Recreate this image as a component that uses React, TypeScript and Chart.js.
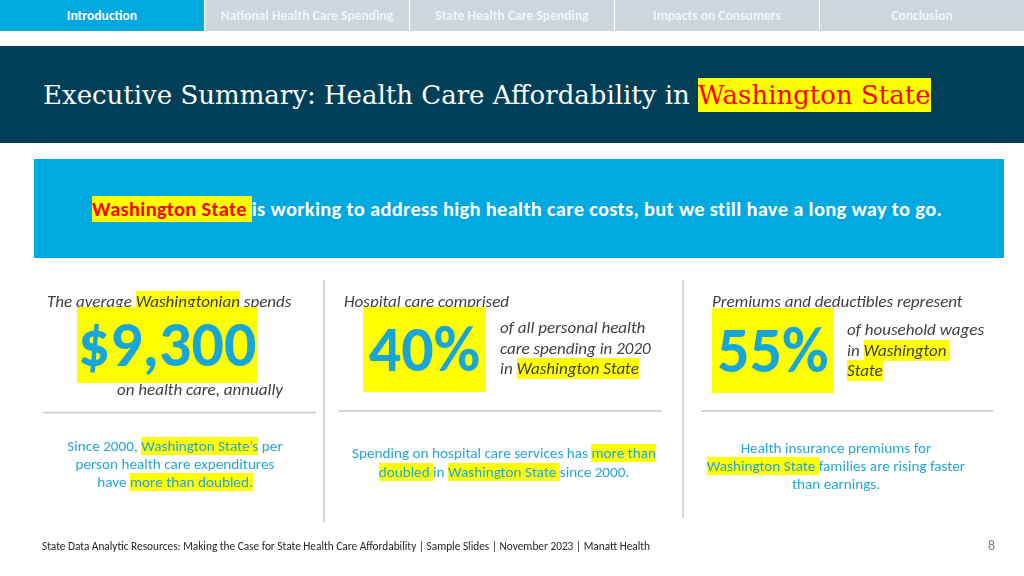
import React, { useEffect, useRef } from "react";
import { Chart, registerables } from "chart.js";

Chart.register(...registerables);

const navTabs = [
  "Introduction",
  "National Health Care Spending",
  "State Health Care Spending",
  "Impacts on Consumers",
  "Conclusion",
];
const activeTab = 0;
const stateName = "Washington State";
const titleText = "Executive Summary: Health Care Affordability in ";
const bannerText = "is working to address high health care costs, but we still have a long way to go.";
const statValues = ["$9,300", "40%", "55%"];
const footerText =
  "State Data Analytic Resources: Making the Case for State Health Care Affordability | Sample Slides | November 2023 | Manatt Health";
const pageNumber = "8";

const SANS = "Carlito, Calibri, Lato, sans-serif";
const BLUE = "#00A9DF";
const STAT_BLUE = "#18A6DA";
const TEXT_BLUE = "#22A6DA";
const GRAY_TEXT = "#404040";
const YELLOW = "#FFFF00";
const NBSP = "\u00A0";

const hl = (t: string, extra: React.CSSProperties = {}) => (
  <span style={{ background: YELLOW, ...extra }}>{t}</span>
);

const dividerPlugin = {
  id: "slideDividers",
  afterDraw(chart: any) {
    const ctx = chart.ctx as CanvasRenderingContext2D;
    ctx.save();
    ctx.strokeStyle = "#C8C8C8";
    ctx.lineWidth = 1.5;
    const segs = [
      [324, 280, 324, 522],
      [683, 280, 683, 518],
      [43, 412.5, 316, 412.5],
      [339, 411, 662, 411],
      [701, 411, 993, 411],
    ];
    for (const [x1, y1, x2, y2] of segs) {
      ctx.beginPath();
      ctx.moveTo(x1, y1);
      ctx.lineTo(x2, y2);
      ctx.stroke();
    }
    ctx.restore();
  },
};

function StatBox(props: { value: string; left: number; top: number; width: number; height: number }) {
  return (
    <div
      style={{
        position: "absolute",
        left: props.left,
        top: props.top,
        width: props.width,
        height: props.height,
        background: YELLOW,
        display: "flex",
        alignItems: "center",
        justifyContent: "center",
        overflow: "visible",
      }}
    >
      <span
        style={{
          display: "inline-block",
          fontFamily: SANS,
          fontWeight: 700,
          fontSize: 64,
          lineHeight: "64px",
          color: STAT_BLUE,
          whiteSpace: "nowrap",
          position: "relative",
          top: -1,
        }}
      >
        {props.value}
      </span>
    </div>
  );
}

export default function App() {
  const canvasRef = useRef<HTMLCanvasElement | null>(null);

  useEffect(() => {
    document.body.style.margin = "0";
    const c = canvasRef.current;
    if (!c) return;
    const chart = new Chart(c, {
      type: "bar",
      data: { labels: [], datasets: [] },
      options: {
        responsive: false,
        animation: false,
        layout: { padding: 0 },
        plugins: { legend: { display: false }, tooltip: { enabled: false } },
        scales: { x: { display: false }, y: { display: false } },
      },
      plugins: [dividerPlugin],
    });
    return () => chart.destroy();
  }, []);

  const italic: React.CSSProperties = {
    position: "absolute",
    fontFamily: SANS,
    fontStyle: "italic",
    fontSize: 17,
    color: GRAY_TEXT,
    whiteSpace: "nowrap",
  };
  const blueText: React.CSSProperties = {
    position: "absolute",
    fontFamily: SANS,
    fontSize: 15.2,
    lineHeight: "18px",
    color: TEXT_BLUE,
    textAlign: "center",
    whiteSpace: "nowrap",
  };

  return (
    <div
      style={{
        position: "absolute",
        left: 0,
        top: 0,
        width: 1024,
        height: 576,
        overflow: "hidden",
        background: "#FFFFFF",
      }}
    >
      <canvas
        ref={canvasRef}
        width={1024}
        height={576}
        style={{ position: "absolute", left: 0, top: 0, width: 1024, height: 576 }}
      />

      {navTabs.map((t, i) => (
        <div
          key={t}
          style={{
            position: "absolute",
            left: i * 205,
            top: 0,
            width: 204,
            height: 31,
            background: i === activeTab ? BLUE : "#CDD7DD",
            color: i === activeTab ? "#FFFFFF" : "#F3F6F8",
            fontFamily: SANS,
            fontWeight: 600,
            fontSize: 13.6,
            lineHeight: "31px",
            textAlign: "center",
            whiteSpace: "nowrap",
          }}
        >
          {t}
        </div>
      ))}

      <div style={{ position: "absolute", left: 0, top: 46, width: 1024, height: 97, background: "#003F58" }} />
      <div
        style={{
          position: "absolute",
          left: 43,
          top: 78,
          fontFamily: "'DejaVu Serif', serif",
          fontSize: 26,
          lineHeight: "34px",
          color: "#FFFFFF",
          whiteSpace: "nowrap",
        }}
      >
        {titleText}
        <span style={{ display: "inline-block", background: YELLOW, color: "#FF0000", lineHeight: "34px" }}>
          {stateName}
        </span>
      </div>

      <div style={{ position: "absolute", left: 34, top: 159, width: 970, height: 99, background: BLUE }} />
      <div
        style={{
          position: "absolute",
          left: 92,
          top: 196,
          fontFamily: SANS,
          fontWeight: 700,
          fontSize: 20.5,
          letterSpacing: 0.3,
          lineHeight: "26px",
          color: "#FFFFFF",
          whiteSpace: "nowrap",
        }}
      >
        <span style={{ display: "inline-block", background: YELLOW, color: "#FF0000", lineHeight: "26px" }}>
          {stateName + NBSP}
        </span>
        {bannerText}
      </div>

      {/* Column 1 */}
      <div style={{ ...italic, left: 47, top: 292, lineHeight: "20px" }}>
        The average {hl("Washingtonian")} spends
      </div>
      <StatBox value={statValues[0]} left={77} top={307} width={180} height={76} />
      <div style={{ ...italic, left: 117, top: 380, lineHeight: "20px" }}>on health care, annually</div>

      {/* Column 2 */}
      <div style={{ ...italic, left: 344, top: 292, lineHeight: "20px" }}>Hospital care comprised</div>
      <StatBox value={statValues[1]} left={363} top={307} width={123} height={85} />
      <div style={{ ...italic, left: 500, top: 318, lineHeight: "20.5px" }}>
        of all personal health
        <br />
        care spending in 2020
        <br />
        in {hl(stateName)}
      </div>

      {/* Column 3 */}
      <div style={{ ...italic, left: 712, top: 292, lineHeight: "20px" }}>Premiums and deductibles represent</div>
      <StatBox value={statValues[2]} left={712} top={308} width={122} height={85} />
      <div style={{ ...italic, left: 847, top: 320, lineHeight: "20.5px" }}>
        of household wages
        <br />
        in {hl("Washington" + NBSP)}
        <br />
        {hl("State")}
      </div>

      {/* Bottom texts */}
      <div style={{ ...blueText, left: 25, top: 437, width: 300 }}>
        Since 2000, {hl(stateName + "\u2019s")} per
        <br />
        person health care expenditures
        <br />
        have {hl("more than doubled.")}
      </div>
      <div style={{ ...blueText, left: 344, top: 444, width: 320, lineHeight: "18.5px" }}>
        Spending on hospital care services has {hl("more than")}
        <br />
        {hl("doubled" + NBSP)}in {hl(stateName + NBSP)}since 2000.
      </div>
      <div style={{ ...blueText, left: 686, top: 439, width: 300 }}>
        Health insurance premiums for
        <br />
        {hl(stateName + NBSP)}families are rising faster
        <br />
        than earnings.
      </div>

      <div
        style={{
          position: "absolute",
          left: 42,
          top: 539,
          fontFamily: SANS,
          fontSize: 11.3,
          lineHeight: "14px",
          color: "#262626",
          whiteSpace: "nowrap",
        }}
      >
        {footerText}
      </div>
      <div
        style={{
          position: "absolute",
          left: 975,
          top: 537,
          width: 20,
          textAlign: "right",
          fontFamily: SANS,
          fontSize: 14,
          lineHeight: "18px",
          color: "#7F7F7F",
        }}
      >
        {pageNumber}
      </div>
    </div>
  );
}
